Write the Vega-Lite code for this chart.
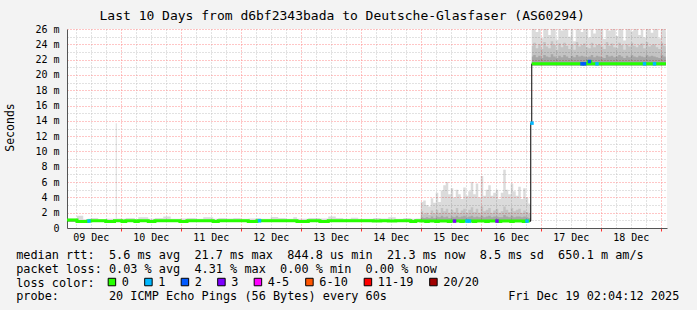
{
  "$schema": "https://vega.github.io/schema/vega-lite/v6.json",
  "width": 600,
  "height": 199,
  "autosize": "none",
  "padding": {"left": 67, "top": 29, "right": 30, "bottom": 82},
  "background": "#f3f3f3",
  "config": {"view": {"fill": "#ffffff", "stroke": null}, "font": "DejaVu Sans Mono"},
  "title": {"text": "Last 10 Days from d6bf2343bada to Deutsche-Glasfaser (AS60294)", "font": "DejaVu Sans Mono", "fontSize": 13, "fontWeight": "normal", "color": "#000000", "anchor": "start", "frame": "group", "dx": 32.5, "baseline": "alphabetic", "offset": -9},
  "data": {"values": [
    {"t":"2025-12-09T02:30Z","m":1.05,"lo":0.8,"a":1.0,"b":1.05,"hi":1.25,"s":1},
    {"t":"2025-12-09T06:30Z","m":0.84,"lo":0.8,"a":1.0,"b":1.05,"hi":1.6,"s":1},
    {"t":"2025-12-09T09:00Z","m":0.84,"lo":0.8,"a":1.0,"b":1.05,"hi":1.15,"s":1},
    {"t":"2025-12-09T10:48Z","m":0.9,"lo":0.8,"a":1.0,"b":1.05,"hi":1.2,"s":1,"l":"1"},
    {"t":"2025-12-09T12:00Z","m":0.94,"lo":0.8,"a":1.0,"b":1.05,"hi":1.3,"s":1},
    {"t":"2025-12-09T15:00Z","m":0.94,"lo":0.8,"a":1.0,"b":1.05,"hi":1.15,"s":1},
    {"t":"2025-12-09T18:00Z","m":0.84,"lo":0.8,"a":1.0,"b":1.05,"hi":1.2,"s":1},
    {"t":"2025-12-09T21:30Z","m":0.94,"lo":0.8,"a":1.0,"b":1.05,"hi":1.2,"s":1},
    {"t":"2025-12-09T22:00Z","m":0.94,"lo":0.8,"a":1.0,"b":1.05,"hi":13.7,"s":1},
    {"t":"2025-12-09T22:24Z","m":0.94,"lo":0.8,"a":1.0,"b":1.05,"hi":1.25,"s":1},
    {"t":"2025-12-10T00:30Z","m":0.84,"lo":0.8,"a":1.0,"b":1.05,"hi":1.2,"s":1},
    {"t":"2025-12-10T02:00Z","m":0.94,"lo":0.8,"a":1.0,"b":1.05,"hi":1.3,"s":1},
    {"t":"2025-12-10T05:40Z","m":0.84,"lo":0.8,"a":1.0,"b":1.05,"hi":1.15,"s":1},
    {"t":"2025-12-10T07:00Z","m":0.94,"lo":0.8,"a":1.0,"b":1.05,"hi":1.4,"s":1},
    {"t":"2025-12-10T11:00Z","m":0.84,"lo":0.8,"a":1.0,"b":1.05,"hi":1.2,"s":1},
    {"t":"2025-12-10T13:40Z","m":0.94,"lo":0.8,"a":1.0,"b":1.05,"hi":1.3,"s":1},
    {"t":"2025-12-10T17:00Z","m":0.94,"lo":0.8,"a":1.0,"b":1.05,"hi":1.5,"s":1},
    {"t":"2025-12-10T20:00Z","m":0.94,"lo":0.8,"a":1.0,"b":1.05,"hi":1.2,"s":1},
    {"t":"2025-12-10T23:40Z","m":0.84,"lo":0.8,"a":1.0,"b":1.05,"hi":1.25,"s":1},
    {"t":"2025-12-11T02:30Z","m":0.94,"lo":0.8,"a":1.0,"b":1.05,"hi":1.3,"s":1},
    {"t":"2025-12-11T06:00Z","m":0.94,"lo":0.8,"a":1.0,"b":1.05,"hi":1.2,"s":1},
    {"t":"2025-12-11T09:00Z","m":0.94,"lo":0.8,"a":1.0,"b":1.05,"hi":1.4,"s":1},
    {"t":"2025-12-11T13:00Z","m":0.84,"lo":0.8,"a":1.0,"b":1.05,"hi":1.2,"s":1},
    {"t":"2025-12-11T15:00Z","m":0.94,"lo":0.8,"a":1.0,"b":1.05,"hi":1.3,"s":1},
    {"t":"2025-12-11T18:00Z","m":0.94,"lo":0.8,"a":1.0,"b":1.05,"hi":1.25,"s":1},
    {"t":"2025-12-11T21:00Z","m":0.94,"lo":0.8,"a":1.0,"b":1.05,"hi":1.3,"s":1},
    {"t":"2025-12-12T00:00Z","m":0.94,"lo":0.8,"a":1.0,"b":1.05,"hi":1.2,"s":1},
    {"t":"2025-12-12T03:00Z","m":0.84,"lo":0.8,"a":1.0,"b":1.05,"hi":1.25,"s":1},
    {"t":"2025-12-12T06:30Z","m":0.94,"lo":0.8,"a":1.0,"b":1.05,"hi":1.3,"s":1},
    {"t":"2025-12-12T07:00Z","m":0.94,"lo":0.8,"a":1.0,"b":1.05,"hi":1.3,"s":1,"l":"1"},
    {"t":"2025-12-12T08:00Z","m":0.94,"lo":0.8,"a":1.0,"b":1.05,"hi":1.2,"s":1},
    {"t":"2025-12-12T12:00Z","m":0.94,"lo":0.8,"a":1.0,"b":1.05,"hi":1.45,"s":1},
    {"t":"2025-12-12T15:00Z","m":0.94,"lo":0.8,"a":1.0,"b":1.05,"hi":1.3,"s":1},
    {"t":"2025-12-12T18:00Z","m":0.94,"lo":0.8,"a":1.0,"b":1.05,"hi":1.2,"s":1},
    {"t":"2025-12-12T21:00Z","m":0.94,"lo":0.8,"a":1.0,"b":1.05,"hi":1.4,"s":1},
    {"t":"2025-12-12T22:30Z","m":0.84,"lo":0.8,"a":1.0,"b":1.05,"hi":1.2,"s":1},
    {"t":"2025-12-13T03:00Z","m":0.94,"lo":0.8,"a":1.0,"b":1.05,"hi":1.3,"s":1},
    {"t":"2025-12-13T07:40Z","m":0.84,"lo":0.8,"a":1.0,"b":1.05,"hi":1.25,"s":1},
    {"t":"2025-12-13T11:00Z","m":0.94,"lo":0.8,"a":1.0,"b":1.05,"hi":1.5,"s":1},
    {"t":"2025-12-13T14:00Z","m":0.94,"lo":0.8,"a":1.0,"b":1.05,"hi":1.3,"s":1},
    {"t":"2025-12-13T17:00Z","m":0.94,"lo":0.8,"a":1.0,"b":1.05,"hi":1.2,"s":1},
    {"t":"2025-12-13T20:00Z","m":0.94,"lo":0.8,"a":1.0,"b":1.05,"hi":1.35,"s":1},
    {"t":"2025-12-13T23:00Z","m":0.94,"lo":0.8,"a":1.0,"b":1.05,"hi":1.2,"s":1},
    {"t":"2025-12-14T02:00Z","m":0.94,"lo":0.8,"a":1.0,"b":1.05,"hi":1.2,"s":1},
    {"t":"2025-12-14T05:00Z","m":0.9,"lo":0.8,"a":1.0,"b":1.05,"hi":1.3,"s":1},
    {"t":"2025-12-14T08:00Z","m":0.94,"lo":0.8,"a":1.0,"b":1.05,"hi":1.25,"s":1},
    {"t":"2025-12-14T11:00Z","m":0.9,"lo":0.8,"a":1.0,"b":1.05,"hi":1.4,"s":1},
    {"t":"2025-12-14T14:00Z","m":0.94,"lo":0.8,"a":1.0,"b":1.05,"hi":1.2,"s":1},
    {"t":"2025-12-14T17:00Z","m":0.94,"lo":0.8,"a":1.0,"b":1.05,"hi":1.3,"s":1},
    {"t":"2025-12-14T20:00Z","m":0.84,"lo":0.8,"a":1.0,"b":1.05,"hi":1.2,"s":1},
    {"t":"2025-12-14T22:00Z","m":0.94,"lo":0.8,"a":1.0,"b":1.05,"hi":1.25,"s":1},
    {"t":"2025-12-15T00:00Z","m":0.9,"lo":0.8,"a":1.4,"b":2.2,"hi":3.4,"s":1},
    {"t":"2025-12-15T01:00Z","m":0.9,"lo":0.8,"a":1.3,"b":1.8,"hi":3.6,"s":1},
    {"t":"2025-12-15T02:00Z","m":0.85,"lo":0.8,"a":1.4,"b":2.0,"hi":3.0,"s":1},
    {"t":"2025-12-15T03:00Z","m":0.9,"lo":0.8,"a":1.3,"b":1.7,"hi":2.8,"s":1},
    {"t":"2025-12-15T04:00Z","m":0.9,"lo":0.8,"a":1.5,"b":2.3,"hi":3.9,"s":1},
    {"t":"2025-12-15T05:00Z","m":0.9,"lo":0.8,"a":1.3,"b":1.9,"hi":3.3,"s":1},
    {"t":"2025-12-15T06:00Z","m":0.85,"lo":0.8,"a":1.5,"b":2.4,"hi":4.6,"s":1},
    {"t":"2025-12-15T07:00Z","m":0.9,"lo":0.8,"a":1.4,"b":2.0,"hi":3.4,"s":1},
    {"t":"2025-12-15T08:00Z","m":0.9,"lo":0.8,"a":1.6,"b":2.6,"hi":4.9,"s":1},
    {"t":"2025-12-15T09:00Z","m":0.9,"lo":0.8,"a":1.4,"b":2.2,"hi":5.6,"s":1},
    {"t":"2025-12-15T10:00Z","m":0.9,"lo":0.8,"a":1.5,"b":2.5,"hi":6.0,"s":1},
    {"t":"2025-12-15T11:00Z","m":0.85,"lo":0.8,"a":1.3,"b":2.0,"hi":4.4,"s":1},
    {"t":"2025-12-15T12:00Z","m":0.9,"lo":0.8,"a":1.5,"b":2.4,"hi":5.2,"s":1},
    {"t":"2025-12-15T13:00Z","m":0.9,"lo":0.8,"a":1.4,"b":2.1,"hi":4.0,"s":1,"l":"3"},
    {"t":"2025-12-15T14:00Z","m":0.9,"lo":0.8,"a":1.6,"b":2.6,"hi":5.0,"s":1},
    {"t":"2025-12-15T15:00Z","m":0.9,"lo":0.8,"a":1.4,"b":2.0,"hi":4.4,"s":1},
    {"t":"2025-12-15T16:00Z","m":0.85,"lo":0.8,"a":1.5,"b":2.3,"hi":3.8,"s":1},
    {"t":"2025-12-15T17:00Z","m":0.9,"lo":0.8,"a":1.6,"b":2.5,"hi":5.3,"s":1},
    {"t":"2025-12-15T18:00Z","m":0.9,"lo":0.8,"a":1.4,"b":2.0,"hi":4.2,"s":1,"l":"1"},
    {"t":"2025-12-15T19:00Z","m":0.9,"lo":0.8,"a":1.5,"b":2.4,"hi":4.8,"s":1,"l":"1"},
    {"t":"2025-12-15T20:00Z","m":0.9,"lo":0.8,"a":1.6,"b":2.7,"hi":6.0,"s":1},
    {"t":"2025-12-15T21:00Z","m":0.85,"lo":0.8,"a":1.4,"b":2.1,"hi":4.4,"s":1},
    {"t":"2025-12-15T22:00Z","m":0.9,"lo":0.8,"a":1.5,"b":2.5,"hi":5.8,"s":1},
    {"t":"2025-12-15T23:00Z","m":0.9,"lo":0.8,"a":1.4,"b":2.0,"hi":4.0,"s":1},
    {"t":"2025-12-16T00:00Z","m":0.9,"lo":0.8,"a":1.6,"b":2.8,"hi":6.8,"s":1},
    {"t":"2025-12-16T01:00Z","m":0.9,"lo":0.8,"a":1.4,"b":2.2,"hi":4.2,"s":1},
    {"t":"2025-12-16T02:00Z","m":0.85,"lo":0.8,"a":1.5,"b":2.4,"hi":5.0,"s":1},
    {"t":"2025-12-16T03:00Z","m":0.9,"lo":0.8,"a":1.6,"b":2.6,"hi":5.6,"s":1},
    {"t":"2025-12-16T04:00Z","m":0.9,"lo":0.8,"a":1.4,"b":2.0,"hi":4.2,"s":1},
    {"t":"2025-12-16T05:00Z","m":0.9,"lo":0.8,"a":1.5,"b":2.3,"hi":4.6,"s":1},
    {"t":"2025-12-16T06:00Z","m":0.9,"lo":0.8,"a":1.5,"b":2.5,"hi":5.0,"s":1,"l":"3"},
    {"t":"2025-12-16T07:00Z","m":0.85,"lo":0.8,"a":1.4,"b":2.0,"hi":3.8,"s":1},
    {"t":"2025-12-16T08:00Z","m":0.9,"lo":0.8,"a":1.4,"b":2.2,"hi":4.6,"s":1},
    {"t":"2025-12-16T09:00Z","m":0.9,"lo":0.8,"a":1.7,"b":2.8,"hi":7.6,"s":1},
    {"t":"2025-12-16T10:00Z","m":0.9,"lo":0.8,"a":1.5,"b":2.4,"hi":5.0,"s":1},
    {"t":"2025-12-16T11:00Z","m":0.9,"lo":0.8,"a":1.4,"b":2.1,"hi":4.4,"s":1},
    {"t":"2025-12-16T12:00Z","m":0.85,"lo":0.8,"a":1.6,"b":2.6,"hi":5.8,"s":1},
    {"t":"2025-12-16T13:00Z","m":0.9,"lo":0.8,"a":1.4,"b":2.2,"hi":4.8,"s":1},
    {"t":"2025-12-16T14:00Z","m":0.9,"lo":0.8,"a":1.5,"b":2.4,"hi":4.2,"s":1},
    {"t":"2025-12-16T15:00Z","m":0.9,"lo":0.8,"a":1.5,"b":2.5,"hi":5.4,"s":1},
    {"t":"2025-12-16T16:00Z","m":0.9,"lo":0.8,"a":1.4,"b":2.0,"hi":3.8,"s":1},
    {"t":"2025-12-16T17:00Z","m":0.85,"lo":0.8,"a":1.5,"b":2.3,"hi":5.2,"s":1},
    {"t":"2025-12-16T18:00Z","m":0.9,"lo":0.8,"a":1.4,"b":2.1,"hi":4.0,"s":1,"l":"1"},
    {"t":"2025-12-16T19:00Z","m":0.9,"lo":0.8,"a":1.3,"b":1.9,"hi":3.2,"s":1},
    {"t":"2025-12-16T19:40Z","m":0.9,"lo":0.8,"a":1.3,"b":1.8,"hi":3.0,"s":1},
    {"t":"2025-12-16T20:00Z","m":13.7,"lo":13.7,"a":13.7,"b":13.7,"hi":13.7,"s":2,"l":"1"},
    {"t":"2025-12-16T20:24Z","m":21.45,"lo":21.2,"a":22.4,"b":23.8,"hi":26,"s":3},
    {"t":"2025-12-16T21:00Z","m":21.45,"lo":21.2,"a":22.6,"b":24.2,"hi":26,"s":3},
    {"t":"2025-12-16T22:00Z","m":21.45,"lo":21.2,"a":22.3,"b":23.5,"hi":25.6,"s":3},
    {"t":"2025-12-16T23:00Z","m":21.45,"lo":21.2,"a":22.5,"b":24.0,"hi":26,"s":3},
    {"t":"2025-12-17T00:00Z","m":21.45,"lo":21.2,"a":22.2,"b":23.4,"hi":24.8,"s":3},
    {"t":"2025-12-17T01:00Z","m":21.45,"lo":21.2,"a":22.6,"b":24.3,"hi":26,"s":3},
    {"t":"2025-12-17T02:00Z","m":21.45,"lo":21.2,"a":22.4,"b":23.7,"hi":26,"s":3},
    {"t":"2025-12-17T03:00Z","m":21.45,"lo":21.2,"a":22.3,"b":23.5,"hi":25.2,"s":3},
    {"t":"2025-12-17T04:00Z","m":21.45,"lo":21.2,"a":22.7,"b":24.4,"hi":26,"s":3},
    {"t":"2025-12-17T05:00Z","m":21.45,"lo":21.2,"a":22.4,"b":23.9,"hi":26,"s":3},
    {"t":"2025-12-17T06:00Z","m":21.45,"lo":21.2,"a":22.2,"b":23.3,"hi":24.6,"s":3},
    {"t":"2025-12-17T07:00Z","m":21.45,"lo":21.2,"a":22.5,"b":24.1,"hi":26,"s":3},
    {"t":"2025-12-17T08:00Z","m":21.45,"lo":21.2,"a":22.3,"b":23.6,"hi":25.8,"s":3},
    {"t":"2025-12-17T09:00Z","m":21.45,"lo":21.2,"a":22.6,"b":24.2,"hi":26,"s":3},
    {"t":"2025-12-17T10:00Z","m":21.45,"lo":21.2,"a":22.4,"b":23.8,"hi":26,"s":3},
    {"t":"2025-12-17T11:00Z","m":21.45,"lo":21.2,"a":22.2,"b":23.4,"hi":25.0,"s":3},
    {"t":"2025-12-17T12:00Z","m":21.45,"lo":21.2,"a":22.5,"b":24.0,"hi":26,"s":3},
    {"t":"2025-12-17T13:00Z","m":21.45,"lo":21.2,"a":22.3,"b":23.3,"hi":24.4,"s":3},
    {"t":"2025-12-17T14:00Z","m":21.45,"lo":21.2,"a":22.6,"b":24.3,"hi":26,"s":3},
    {"t":"2025-12-17T15:00Z","m":21.45,"lo":21.2,"a":22.4,"b":23.7,"hi":26,"s":3},
    {"t":"2025-12-17T16:00Z","m":21.45,"lo":21.2,"a":22.5,"b":23.9,"hi":25.6,"s":3,"l":"2"},
    {"t":"2025-12-17T17:00Z","m":21.45,"lo":21.2,"a":22.4,"b":24.1,"hi":26,"s":3,"l":"2"},
    {"t":"2025-12-17T18:00Z","m":21.45,"lo":21.2,"a":22.3,"b":23.6,"hi":26,"s":3},
    {"t":"2025-12-17T19:00Z","m":21.75,"lo":21.2,"a":22.4,"b":23.5,"hi":24.9,"s":3,"l":"2"},
    {"t":"2025-12-17T20:00Z","m":21.45,"lo":21.2,"a":22.6,"b":24.2,"hi":26,"s":3},
    {"t":"2025-12-17T21:00Z","m":21.45,"lo":21.2,"a":22.3,"b":23.6,"hi":25.4,"s":3},
    {"t":"2025-12-17T22:00Z","m":21.45,"lo":21.2,"a":22.5,"b":23.9,"hi":26,"s":3,"l":"1"},
    {"t":"2025-12-17T23:00Z","m":21.45,"lo":21.2,"a":22.4,"b":24.0,"hi":26,"s":3},
    {"t":"2025-12-18T00:00Z","m":21.45,"lo":21.2,"a":22.3,"b":23.7,"hi":26,"s":3},
    {"t":"2025-12-18T01:00Z","m":21.45,"lo":21.2,"a":22.2,"b":23.4,"hi":24.7,"s":3},
    {"t":"2025-12-18T02:00Z","m":21.45,"lo":21.2,"a":22.6,"b":24.3,"hi":26,"s":3},
    {"t":"2025-12-18T03:00Z","m":21.45,"lo":21.2,"a":22.4,"b":23.8,"hi":25.8,"s":3},
    {"t":"2025-12-18T04:00Z","m":21.45,"lo":21.2,"a":22.5,"b":24.1,"hi":26,"s":3},
    {"t":"2025-12-18T05:00Z","m":21.45,"lo":21.2,"a":22.3,"b":23.6,"hi":26,"s":3},
    {"t":"2025-12-18T06:00Z","m":21.45,"lo":21.2,"a":22.4,"b":23.5,"hi":25.1,"s":3},
    {"t":"2025-12-18T07:00Z","m":21.45,"lo":21.2,"a":22.6,"b":24.2,"hi":26,"s":3},
    {"t":"2025-12-18T08:00Z","m":21.45,"lo":21.2,"a":22.4,"b":23.9,"hi":26,"s":3},
    {"t":"2025-12-18T09:00Z","m":21.45,"lo":21.2,"a":22.2,"b":23.3,"hi":24.5,"s":3},
    {"t":"2025-12-18T10:00Z","m":21.45,"lo":21.2,"a":22.5,"b":24.0,"hi":26,"s":3},
    {"t":"2025-12-18T11:00Z","m":21.45,"lo":21.2,"a":22.3,"b":23.7,"hi":26,"s":3},
    {"t":"2025-12-18T12:00Z","m":21.45,"lo":21.2,"a":22.6,"b":24.2,"hi":25.7,"s":3},
    {"t":"2025-12-18T13:00Z","m":21.45,"lo":21.2,"a":22.4,"b":23.8,"hi":26,"s":3},
    {"t":"2025-12-18T14:00Z","m":21.45,"lo":21.2,"a":22.3,"b":23.6,"hi":26,"s":3},
    {"t":"2025-12-18T15:00Z","m":21.45,"lo":21.2,"a":22.5,"b":23.9,"hi":25.2,"s":3},
    {"t":"2025-12-18T16:00Z","m":21.45,"lo":21.2,"a":22.4,"b":24.1,"hi":26,"s":3},
    {"t":"2025-12-18T17:00Z","m":21.45,"lo":21.2,"a":22.3,"b":23.5,"hi":24.9,"s":3,"l":"1"},
    {"t":"2025-12-18T18:00Z","m":21.45,"lo":21.2,"a":22.6,"b":24.3,"hi":26,"s":3},
    {"t":"2025-12-18T19:00Z","m":21.45,"lo":21.2,"a":22.4,"b":23.7,"hi":26,"s":3},
    {"t":"2025-12-18T20:00Z","m":21.45,"lo":21.2,"a":22.5,"b":23.9,"hi":25.5,"s":3},
    {"t":"2025-12-18T21:00Z","m":21.45,"lo":21.2,"a":22.4,"b":24.0,"hi":26,"s":3,"l":"1"},
    {"t":"2025-12-18T22:00Z","m":21.45,"lo":21.2,"a":22.3,"b":23.6,"hi":26,"s":3},
    {"t":"2025-12-18T23:00Z","m":21.45,"lo":21.2,"a":22.2,"b":23.4,"hi":24.8,"s":3},
    {"t":"2025-12-19T00:00Z","m":21.45,"lo":21.2,"a":22.6,"b":24.2,"hi":26,"s":3},
    {"t":"2025-12-19T01:00Z","m":21.45,"lo":21.2,"a":22.4,"b":23.8,"hi":26,"s":3},
    {"t":"2025-12-19T02:00Z","m":21.45,"lo":21.2,"a":22.3,"b":23.6,"hi":25.6,"s":3},
    {"t":"2025-12-19T02:04Z","m":21.45,"lo":21.2,"a":22.3,"b":23.6,"hi":25.6,"s":3}
  ]},
  "layer": [
    {
      "mark": {"type": "area", "interpolate": "step-after", "color": "#000000", "opacity": 0.14},
      "encoding": {
        "x": {"field": "t", "type": "temporal",
          "scale": {"type": "utc", "domain": [{"year": 2025, "month": 12, "date": 9, "hours": 2, "minutes": 30, "utc": true}, {"year": 2025, "month": 12, "date": 19, "hours": 2, "minutes": 30, "utc": true}]},
          "axis": {
            "orient": "bottom",
            "tickCount": 40,
            "format": "%d %b",
            "labelExpr": "datum.value % 86400000 == 43200000 ? datum.label : ''",
            "labelOverlap": false, "labelFlush": false,
            "labelFont": "DejaVu Sans Mono", "labelFontSize": 10, "labelColor": "#000000",
            "labelBaseline": "alphabetic", "labelPadding": 9.7,
            "tickSize": 3, "tickWidth": 1,
            "tickColor": {"condition": {"test": "datum.value % 86400000 == 0", "value": "#ff3030"}, "value": "transparent"},
            "domain": true, "domainColor": "#555555",
            "grid": true,
            "gridColor": {"condition": {"test": "datum.value % 86400000 == 0", "value": "#ff8c8c"}, "value": "#c4c4c4"},
            "gridDash": [1, 2], "gridWidth": 1,
            "title": ["median rtt:\u00a0\u00a05.6 ms avg\u00a0\u00a021.7 ms max\u00a0\u00a0844.8 us min\u00a0\u00a021.3 ms now\u00a0\u00a08.5 ms sd\u00a0\u00a0650.1 m am/s", "packet loss: 0.03 % avg\u00a0\u00a04.31 % max\u00a0\u00a00.00 % min\u00a0\u00a00.00 % now", "loss color:", "probe:\u00a0\u00a0\u00a0\u00a0\u00a0\u00a0\u00a020 ICMP Echo Pings (56 Bytes) every 60s\u00a0\u00a0\u00a0\u00a0\u00a0\u00a0\u00a0\u00a0\u00a0\u00a0\u00a0\u00a0\u00a0\u00a0\u00a0\u00a0\u00a0Fri Dec 19 02:04:12 2025"],
            "titleFont": "DejaVu Sans Mono", "titleFontSize": 11.85, "titleFontWeight": "normal", "titleColor": "#000000",
            "titleAlign": "left", "titleAnchor": "start", "titleBaseline": "alphabetic",
            "titleX": -51.3, "titleY": 30.3, "titleLineHeight": 13.9
          }
        },
        "y": {"field": "lo", "type": "quantitative",
          "scale": {"domain": [0, 26], "nice": false},
          "axis": {
            "orient": "left",
            "values": [0,1,2,3,4,5,6,7,8,9,10,11,12,13,14,15,16,17,18,19,20,21,22,23,24,25,26],
            "tickCount": 30,
            "labelExpr": "datum.value == 0 ? '0\u00a0\u00a0' : (datum.value % 2 == 0 ? datum.value + ' m' : '')",
            "labelOverlap": false,
            "labelFont": "DejaVu Sans Mono", "labelFontSize": 10, "labelColor": "#000000",
            "labelPadding": 8, "ticks": false, "domain": true, "domainColor": "#555555",
            "grid": true,
            "gridColor": {"condition": {"test": "datum.value % 2 == 0", "value": "#ff8c8c"}, "value": "#c4c4c4"},
            "gridDash": [1, 2], "gridWidth": 1,
            "title": "Seconds",
            "titleFont": "DejaVu Sans Mono", "titleFontSize": 11.5, "titleFontWeight": "normal", "titleColor": "#000000",
            "titleAngle": 270, "titleAlign": "center", "titleBaseline": "alphabetic",
            "titleX": -53.7, "titleY": 98
          }
        },
        "y2": {"field": "hi"}
      }
    },
    {
      "mark": {"type": "area", "interpolate": "step-after", "color": "#000000", "opacity": 0.11},
      "encoding": {
        "x": {"field": "t", "type": "temporal"},
        "y": {"field": "lo", "type": "quantitative"},
        "y2": {"field": "b"}
      }
    },
    {
      "mark": {"type": "area", "interpolate": "step-after", "color": "#000000", "opacity": 0.15},
      "encoding": {
        "x": {"field": "t", "type": "temporal"},
        "y": {"field": "lo", "type": "quantitative"},
        "y2": {"field": "a"}
      }
    },
    {
      "mark": {"type": "line", "interpolate": "step-after", "color": "#000000", "strokeWidth": 1},
      "encoding": {
        "x": {"field": "t", "type": "temporal"},
        "y": {"field": "m", "type": "quantitative"}
      }
    },
    {
      "mark": {"type": "line", "interpolate": "step-after", "color": "#26ff00", "strokeWidth": 3, "strokeCap": "butt"},
      "encoding": {
        "x": {"field": "t", "type": "temporal"},
        "y": {"field": "m", "type": "quantitative"},
        "detail": {"field": "s", "type": "nominal"}
      }
    },
    {
      "transform": [{"filter": {"field": "l", "valid": true}}],
      "mark": {"type": "square", "size": 12, "opacity": 1, "xOffset": 1.25},
      "encoding": {
        "x": {"field": "t", "type": "temporal"},
        "y": {"field": "m", "type": "quantitative"},
        "fill": {"field": "l", "type": "nominal",
          "scale": {"domain": ["0", "1", "2", "3", "4-5", "6-10", "11-19", "20/20"], "range": ["#26ff00", "#00b8ff", "#0059ff", "#7e00ff", "#ff00ff", "#ff5500", "#ff0000", "#a10000"]},
          "legend": {"orient": "none", "legendX": 39, "legendY": 247, "direction": "horizontal", "title": null,
            "symbolType": "square", "symbolSize": 56, "symbolStrokeColor": "#000000", "symbolStrokeWidth": 1, "symbolOpacity": 1,
            "labelFont": "DejaVu Sans Mono", "labelFontSize": 11.85, "labelColor": "#000000",
            "labelOffset": 4, "columnPadding": 13.5, "padding": 0}
        }
      }
    }
  ]
}
